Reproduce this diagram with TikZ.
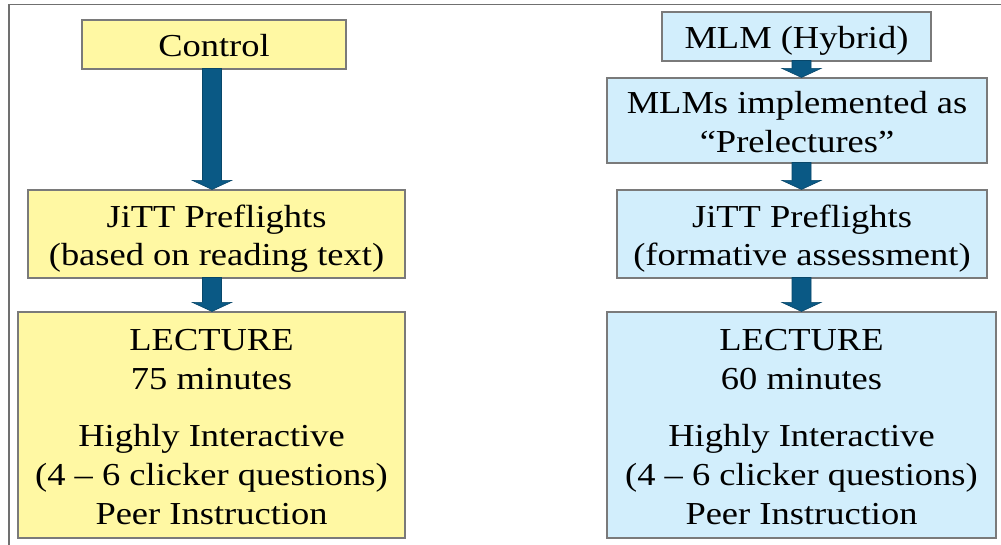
\documentclass[tikz,border=0pt]{standalone}
\usepackage{fontspec}
\setmainfont[FakeStretch=1.14]{Liberation Serif}
\usetikzlibrary{calc}
\definecolor{boxyellow}{HTML}{FFF8A3}
\definecolor{boxblue}{HTML}{D2EEFC}
\definecolor{arrowblue}{HTML}{0A5985}
\definecolor{edgegray}{HTML}{7A7A7A}
\definecolor{framegray}{HTML}{707070}
\newcommand\tstrut{\rule{0pt}{32.5pt}}
\newcommand\bstrut{\rule[-7.5pt]{0pt}{7.5pt}}
\newcommand\boxfont{\fontsize{32}{39}\selectfont\lineskiplimit=-100pt\relax\lineskip=0pt\relax}
\tikzset{
  flowbox/.style={draw=edgegray, line width=1.1pt, inner sep=0pt, align=center,
    font=\boxfont},
  ybox/.style={flowbox, fill=boxyellow},
  bbox/.style={flowbox, fill=boxblue},
  fatarrow/.style={fill=arrowblue, draw=arrowblue!80!black, line width=0.6pt},
}
\newcommand\fatarrow[3]{%
  \filldraw[fatarrow] let \p1=($(#1.south -| #3)+(0,1pt)$), \p2=(#2.north -| #3) in
  (\x1-9.5pt,\y1) -- (\x1+9.5pt,\y1) -- (\x1+9.5pt,\y2+9pt) -- (\x1+19.5pt,\y2+9pt)
  -- (\x2,\y2) -- (\x1-19.5pt,\y2+9pt) -- (\x1-9.5pt,\y2+9pt) -- cycle;}
\begin{document}
\begin{tikzpicture}[x=1pt,y=-1pt]
\useasboundingbox (0,0) rectangle (1001,545);
\draw[framegray, line width=1.4pt] (9,545) -- (9,4.5) -- (1001,4.5);
\coordinate (axL) at (212,0);
\coordinate (axR) at (801.5,0);
% left column
\node[ybox, minimum width=264pt, minimum height=49pt] (ctrl) at (214,44.5) {\tstrut Control\bstrut};
\node[ybox, minimum width=377pt, minimum height=88pt] (jitL) at (216.5,234)
  {\tstrut JiTT Preflights\\(based on reading text)\bstrut};
\node[ybox, minimum width=387pt, minimum height=226pt] (lecL) at (211.5,425)
  {\tstrut LECTURE\\75 minutes\\[18pt]Highly Interactive\\(4 – 6 clicker questions)\\Peer Instruction\bstrut};
% right column
\node[bbox, minimum width=269pt, minimum height=49pt] (mlm) at (796.5,36.5) {\tstrut MLM (Hybrid)\bstrut};
\node[bbox, minimum width=380pt, minimum height=85pt] (pre) at (797,120.5)
  {\tstrut MLMs implemented as\\“Prelectures”\bstrut};
\node[bbox, minimum width=370pt, minimum height=88pt] (jitR) at (802,234)
  {\tstrut JiTT Preflights\\(formative assessment)\bstrut};
\node[bbox, minimum width=389pt, minimum height=226pt] (lecR) at (801.5,425)
  {\tstrut LECTURE\\60 minutes\\[18pt]Highly Interactive\\(4 – 6 clicker questions)\\Peer Instruction\bstrut};
% arrows
\fatarrow{ctrl}{jitL}{axL}
\fatarrow{jitL}{lecL}{axL}
\fatarrow{mlm}{pre}{axR}
\fatarrow{pre}{jitR}{axR}
\fatarrow{jitR}{lecR}{axR}
\end{tikzpicture}
\end{document}
